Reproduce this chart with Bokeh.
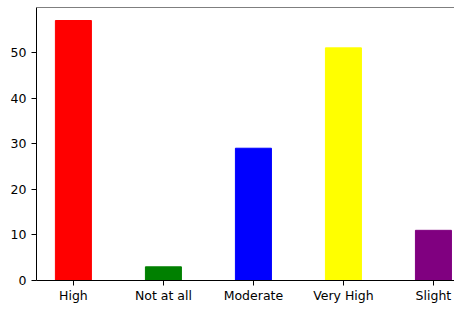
from bokeh.plotting import figure
from bokeh.models import Range1d, FixedTicker, Span, ColumnDataSource
from bokeh.embed import file_html
from bokeh.resources import INLINE

categories = ["High", "Not at all", "Moderate", "Very High", "Slight"]
counts = [57, 3, 29, 51, 11]
colors = ["red", "green", "blue", "yellow", "purple"]

xs = list(range(len(categories)))
src = ColumnDataSource(dict(x=xs, top=counts, color=colors))

p = figure(width=454, height=305, output_backend="svg", toolbar_location=None,
           x_range=Range1d(-0.41, 4.234), y_range=Range1d(0, 59.85),
           min_border_left=36, min_border_right=0, min_border_top=7, min_border_bottom=22)
p.vbar(x="x", top="top", width=0.4, bottom=0, color="color", source=src)

p.grid.visible = False
p.outline_line_color = None
p.background_fill_color = "white"
p.border_fill_color = "white"

p.xaxis.ticker = FixedTicker(ticks=xs)
p.xaxis.major_label_overrides = {i: c for i, c in enumerate(categories)}
p.yaxis.ticker = FixedTicker(ticks=[0, 10, 20, 30, 40, 50])

for ax in (p.xaxis[0], p.yaxis[0]):
    ax.axis_line_color = "black"
    ax.axis_line_width = 1
    ax.major_tick_line_color = "black"
    ax.major_tick_in = 0
    ax.major_tick_out = 5
    ax.minor_tick_line_color = None
    ax.major_label_text_font = "DejaVu Sans"
    ax.major_label_text_font_size = "12.5px"
    ax.major_label_text_color = "black"
p.yaxis.major_label_standoff = 5
p.xaxis.major_label_standoff = 2

p.add_layout(Span(location=59.85, dimension="width", line_color="black", line_width=1))

open("out.html", "w").write(file_html(p, INLINE))
